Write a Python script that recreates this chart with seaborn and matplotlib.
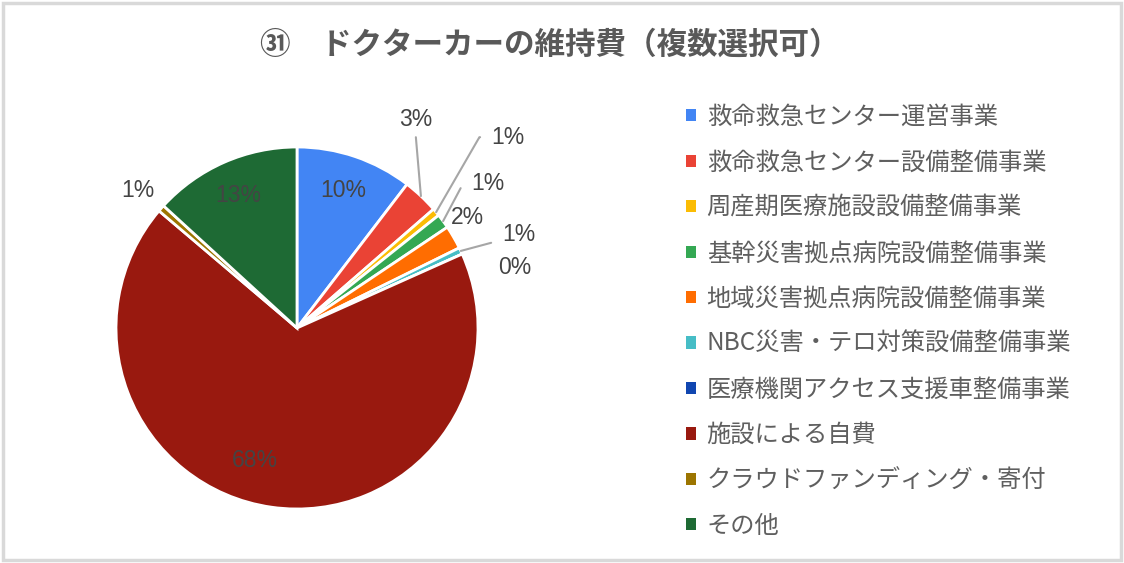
import numpy as np
import seaborn as sns
import matplotlib.pyplot as plt
from matplotlib.patches import Patch, Rectangle

# dados
categorias = ['救命救急センター運営事業', '救命救急センター設備整備事業', '周産期医療施設設備整備事業',
              '基幹災害拠点病院設備整備事業', '地域災害拠点病院設備整備事業', 'NBC災害・テロ対策設備整備事業',
              '医療機関アクセス支援車整備事業', '施設による自費', 'クラウドファンディング・寄付', 'その他']
valores = [10.4, 3.2, 0.7, 1.3, 2.1, 0.6, 0.0, 67.9, 0.6, 13.2]
rotulos = ['10%', '3%', '1%', '1%', '2%', '1%', '0%', '68%', '1%', '13%']
cores = ['#4285F4', '#EA4335', '#FBBC04', '#34A853', '#FF6D01', '#46BDC6',
         '#1046B0', '#99190F', '#9C7500', '#1E6A34']
titulo = '㉛　ドクターカーの維持費（複数選択可）'

sns.set_theme(style='white')
plt.rcParams['font.family'] = ['Noto Sans CJK JP', 'DejaVu Sans']

fig = plt.figure(figsize=(11.24, 5.63), dpi=100)
fig.patches.append(Rectangle((3 / 1124, 3 / 563), 1118 / 1124, 557 / 563, transform=fig.transFigure,
                             fill=False, edgecolor='#d9d9d9', lw=2.5))

ax = fig.add_axes([116 / 1124, 54 / 563, 362 / 1124, 362 / 563])
fatias, _ = ax.pie(valores, colors=cores, startangle=90, counterclock=False,
                   wedgeprops=dict(edgecolor='white', linewidth=2, clip_on=False))
ax.set_xlim(-1, 1)
ax.set_ylim(-1, 1)

cor_txt = '#444444'
fonte_num = ['Liberation Sans', 'Noto Sans CJK JP']
tam_num = 16.5

# rotulos fora: deslocamento (pt), estilo da linha guia
fora = {
    1: ((-4, 55), 'vert'),
    2: ((52, 54), 60),
    3: ((32, 27), 62),
    4: ((10, 14), None),
    5: ((42, 12), 15),
    6: ((38, -10), None),
    8: ((-17, 13), None),
}
# ajuste fino dos rotulos de dentro (pt)
dentro = {7: (-16, 8)}

for i, w in enumerate(fatias):
    meio = np.deg2rad((w.theta1 + w.theta2) / 2)
    if i in fora:
        (dx, dy), guia = fora[i]
        xy = (np.cos(meio), np.sin(meio))
        if guia is None:
            ax.annotate(rotulos[i], xy=xy, xytext=(dx, dy), textcoords='offset points',
                        ha='center', va='center', fontsize=tam_num, color=cor_txt, family=fonte_num)
        elif guia == 'vert':
            ax.annotate(rotulos[i], xy=xy, xytext=(dx, dy), textcoords='offset points',
                        ha='center', va='center', fontsize=tam_num, color=cor_txt, family=fonte_num,
                        arrowprops=dict(arrowstyle='-', color='#a6a6a6', lw=1.5,
                                        relpos=(0.5, 0), shrinkA=2, shrinkB=0))
        else:
            ax.annotate(rotulos[i], xy=xy, xytext=(dx, dy), textcoords='offset points',
                        ha='center', va='center', fontsize=tam_num, color=cor_txt, family=fonte_num,
                        arrowprops=dict(arrowstyle='-', color='#a6a6a6', lw=1.5,
                                        relpos=(0, 0.5), shrinkA=6, shrinkB=0,
                                        connectionstyle='angle,angleA=0,angleB=%d,rad=0' % guia))
    else:
        r = 0.8
        ax.annotate(rotulos[i], xy=(r * np.cos(meio), r * np.sin(meio)), xytext=dentro.get(i, (0, 0)),
                    textcoords='offset points', ha='center', va='center',
                    fontsize=tam_num, color=cor_txt, family=fonte_num)

fig.text(0.489, 0.92, titulo, ha='center', va='center', fontsize=22, fontweight='bold', color='#595959')

alcas = [Patch(facecolor=c, edgecolor='none') for c in cores]
leg = fig.legend(alcas, categorias, loc='upper left', bbox_to_anchor=(686 / 1124, 1 - 104 / 563),
                 frameon=False, fontsize=17.5, handlelength=0.4, handleheight=0.4,
                 handletextpad=0.45, labelspacing=0.8, borderpad=0, borderaxespad=0)
for t in leg.get_texts():
    t.set_color('#5f5f5f')

plt.savefig('out.png', dpi=100)
